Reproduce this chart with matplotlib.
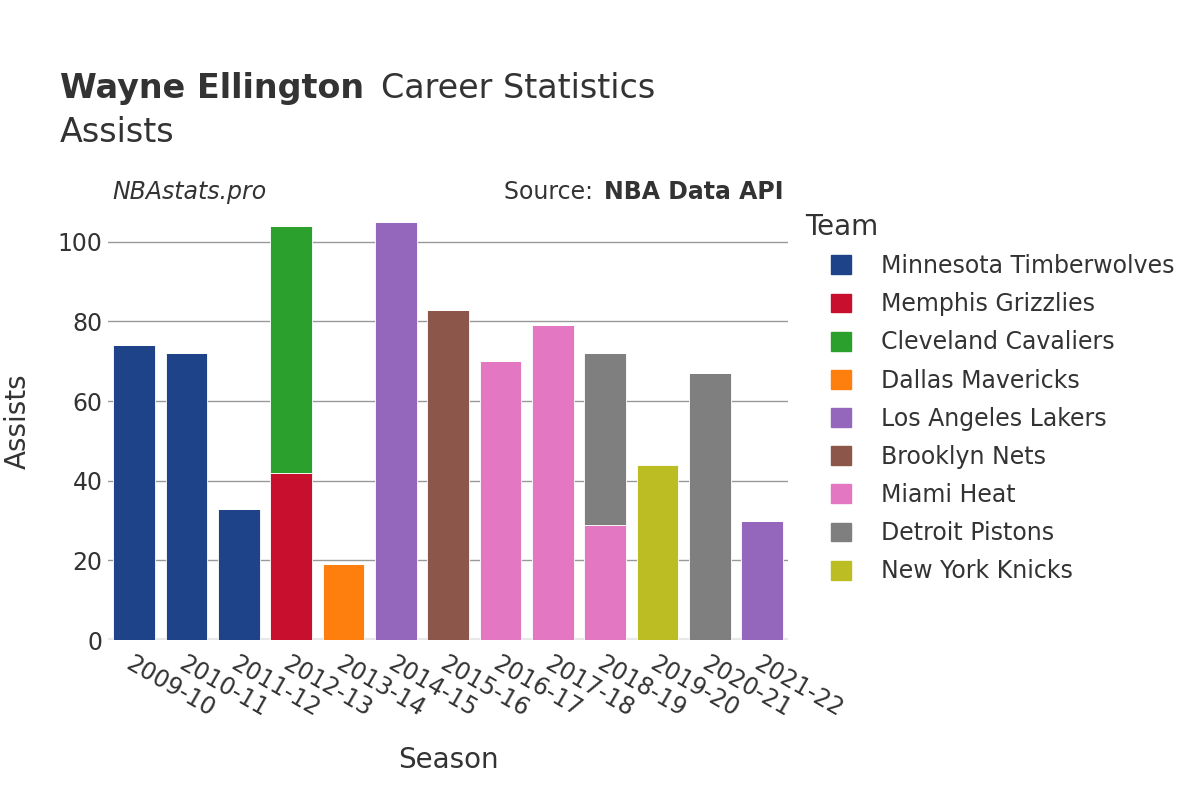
import matplotlib.pyplot as plt
from matplotlib.patches import Patch

# data
seasons = ["2009-10", "2010-11", "2011-12", "2012-13", "2013-14", "2014-15", "2015-16",
           "2016-17", "2017-18", "2018-19", "2019-20", "2020-21", "2021-22"]
teams = ["Minnesota Timberwolves", "Memphis Grizzlies", "Cleveland Cavaliers", "Dallas Mavericks",
         "Los Angeles Lakers", "Brooklyn Nets", "Miami Heat", "Detroit Pistons", "New York Knicks"]
colors = ["#1f4388", "#c8102e", "#2ca02c", "#ff7f0e", "#9467bd", "#8c564b", "#e377c2", "#7f7f7f", "#bcbd22"]

# assists per team per season (0 = did not play for that team)
minnesota = [74, 72, 33, 0, 0, 0, 0, 0, 0, 0, 0, 0, 0]
memphis   = [0, 0, 0, 42, 0, 0, 0, 0, 0, 0, 0, 0, 0]
cleveland = [0, 0, 0, 62, 0, 0, 0, 0, 0, 0, 0, 0, 0]
dallas    = [0, 0, 0, 0, 19, 0, 0, 0, 0, 0, 0, 0, 0]
lakers    = [0, 0, 0, 0, 0, 105, 0, 0, 0, 0, 0, 0, 30]
brooklyn  = [0, 0, 0, 0, 0, 0, 83, 0, 0, 0, 0, 0, 0]
miami     = [0, 0, 0, 0, 0, 0, 0, 70, 79, 29, 0, 0, 0]
detroit   = [0, 0, 0, 0, 0, 0, 0, 0, 0, 43, 0, 67, 0]
new_york  = [0, 0, 0, 0, 0, 0, 0, 0, 0, 0, 44, 0, 0]
series = [minnesota, memphis, cleveland, dallas, lakers, brooklyn, miami, detroit, new_york]

plt.rcParams["font.family"] = ["DejaVu Sans"]
txt = "#333333"

fig = plt.figure(figsize=(12, 8), dpi=100)
ax = fig.add_axes([0.09, 0.2, 0.567, 0.5475])

x = list(range(len(seasons)))
bottom = [0] * len(seasons)
for vals, col in zip(series, colors):
    ax.bar(x, vals, bottom=bottom, width=0.8, color=col, edgecolor="white", linewidth=0.6, zorder=3)
    bottom = [b + v for b, v in zip(bottom, vals)]

ax.set_xlim(-0.5, len(seasons) - 0.5)
ax.set_ylim(0, 110)
ax.set_yticks([0, 20, 40, 60, 80, 100])
ax.yaxis.grid(True, color="#999999", linewidth=1, zorder=0)
ax.axhline(0, color="#e8e8e8", linewidth=3, zorder=2)
for s in ax.spines.values():
    s.set_visible(False)
ax.tick_params(axis="y", length=0, labelsize=17, labelcolor=txt, pad=4)
ax.tick_params(axis="x", length=0, labelsize=17, labelcolor=txt, pad=8)
ax.set_xticks(x)
ax.set_xticklabels(seasons, rotation=-30, ha="left", va="top", rotation_mode="anchor")

ax.set_xlabel("Season", fontsize=20, color=txt, va="center")
ax.xaxis.set_label_coords(0.5, -0.274)
ax.set_ylabel("Assists", fontsize=20, color=txt, va="center")
ax.yaxis.set_label_coords(-0.132, 0.5)

# titles
fig.text(0.05, 0.889, "Wayne Ellington", fontsize=24, fontweight="bold", color=txt, va="center")
fig.text(0.3175, 0.889, "Career Statistics", fontsize=24, color=txt, va="center")
fig.text(0.05, 0.835, "Assists", fontsize=24, color=txt, va="center")
fig.text(0.094, 0.76, "NBAstats.pro", fontsize=17, style="italic", color=txt, va="center")
fig.text(0.42, 0.76, "Source: ", fontsize=17, color=txt, va="center")
fig.text(0.653, 0.76, "NBA Data API", fontsize=17, fontweight="bold", color=txt, va="center", ha="right")

# legend
fig.text(0.671, 0.716, "Team", fontsize=20, color=txt, va="center")
handles = [Patch(facecolor=c, edgecolor=c, label=t) for t, c in zip(teams, colors)]
leg = fig.legend(handles=handles, loc="upper left", bbox_to_anchor=(0.6925, 0.6825), frameon=False,
                 fontsize=17, labelspacing=0.6, handlelength=0.85, handleheight=0.85,
                 handletextpad=1.27, borderpad=0, borderaxespad=0)
for t in leg.get_texts():
    t.set_color(txt)

fig.savefig("out.png", dpi=100)
